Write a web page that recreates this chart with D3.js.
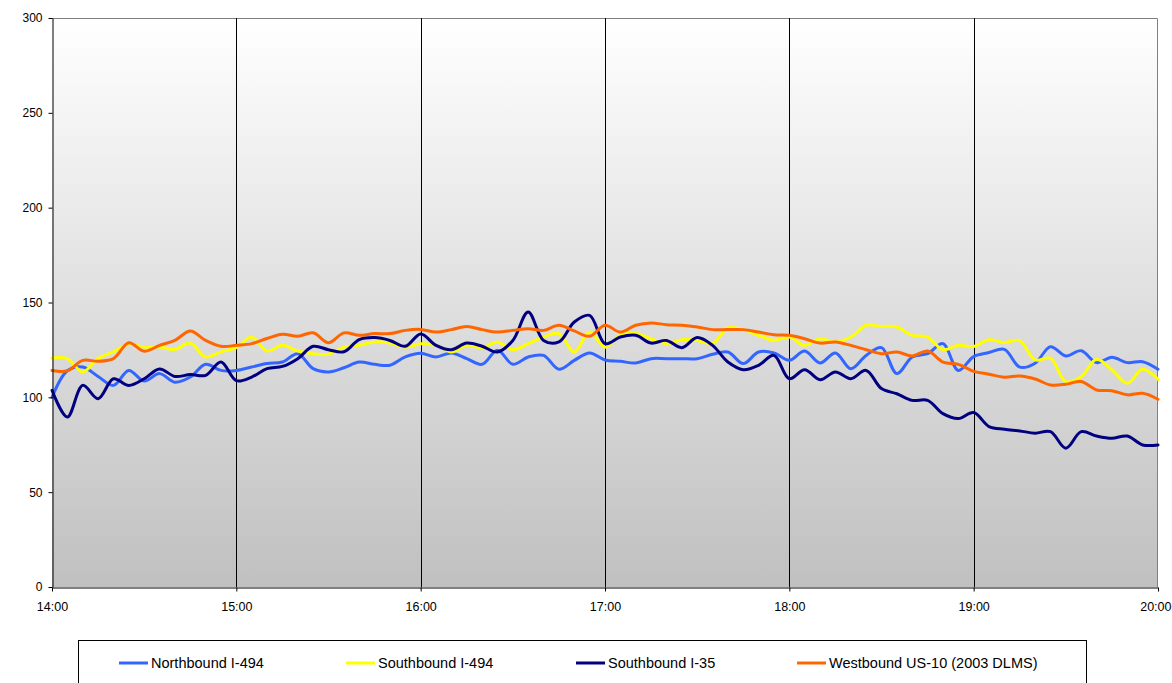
<!DOCTYPE html>
<html>
<head>
<meta charset="utf-8">
<script src="https://cdn.jsdelivr.net/npm/d3@7"></script>
<style>
  html, body { margin: 0; padding: 0; background: #ffffff; }
  svg { display: block; font-family: "Liberation Sans", Arial, sans-serif; }
</style>
</head>
<body>
<svg id="chart" width="1172" height="683"></svg>
<script>
// Traffic volume by five-minute interval, 14:00 to 20:00
const startTime = new Date(2003, 0, 1, 14, 0);
const endTime = new Date(2003, 0, 1, 20, 0);
const intervalMinutes = 5;

const seriesNames = [
  "Northbound I-494",
  "Southbound I-494",
  "Southbound I-35",
  "Westbound US-10 (2003 DLMS)"
];
const seriesColors = ["#3366ff", "#ffff00", "#000080", "#ff6600"];

const northboundI494 = [
  100, 114, 116, 111, 106.3, 114.2, 108.6, 112.5, 108, 110.7, 117.4, 114.2, 114.2,
  116, 117.8, 118.6, 123, 115.1, 113.4, 115.6, 118.6, 117.4, 116.9, 121.3, 123.2,
  121.3, 123.4, 120.4, 117.4, 124.8, 117.4, 121.3, 122.1, 114.8, 119.5, 123.4, 119.7,
  119, 118.1, 120.4, 120.4, 120.4, 120.4, 122.7, 123.9, 117.8, 123.9, 123.4, 119.5,
  124.4, 118.1, 123.4, 115.1, 122.1, 126.2, 112.5, 121.3, 123, 128.3, 114.2, 121.5,
  123.6, 125.3, 115.9, 118, 126.7, 121.8, 124.6, 118.3, 121.1, 118.3, 118.8, 114.8
];
const southboundI494 = [
  120.7, 120.4, 113.4, 120.4, 124, 128, 126.5, 126.5, 125.3, 128.6, 121.3, 124, 126.2,
  131.8, 124.4, 127.4, 124.4, 123, 122.7, 126.5, 127.4, 129.2, 128.6, 126.5, 128.2,
  127.4, 123.9, 127.4, 126.2, 129.2, 125.1, 128.3, 131.8, 133.6, 123.9, 134.4, 126.4,
  132.7, 133.6, 130.9, 128.3, 130.4, 130, 128.3, 136.7, 135.7, 132.7, 130, 131.8,
  127.4, 130.9, 129.2, 131.8, 138, 137.4, 137.1, 132.7, 131.8, 125.1, 127.4, 126.8,
  130.3, 128.9, 129.9, 119.7, 120.6, 108.3, 110.9, 120.1, 114.5, 107.4, 114.8, 109.5
];
const southboundI35 = [
  103.7, 89.6, 106.3, 99.3, 109.8, 106.3, 109.8, 115, 111, 112, 111.6, 118.6, 108.8,
  110.7, 115.1, 116.3, 120.4, 126.9, 125.1, 124, 130.4, 131.5, 130, 126.9, 133.4,
  127.4, 125.1, 128.6, 126.9, 123.9, 130, 145, 130, 129.2, 139.7, 143.2, 128.3,
  131.8, 132.7, 128.6, 130, 126.2, 131.5, 127.4, 118.6, 114.6, 116.9, 122.1, 109.8,
  114.6, 109.3, 113.4, 109.8, 114.2, 104.6, 101.9, 98.4, 98.4, 91.4, 88.8, 92,
  84.6, 83.2, 82.3, 81.1, 81.9, 73.2, 81.9, 79.6, 78.4, 79.6, 74.9, 74.9
];
const westboundUS10 = [
  114.2, 114, 119.5, 119, 120.4, 128.8, 124.3, 127.4, 130, 135, 130, 126.9, 127.4,
  128.3, 131, 133.2, 132.2, 134, 128.8, 134, 132.7, 133.6, 133.6, 135.3, 135.8,
  134.4, 135.7, 137.4, 135.7, 134.4, 135.3, 136.2, 135.3, 138, 135, 132.2, 138,
  134.4, 138, 139.2, 138.3, 138, 137.1, 135.7, 135.7, 135.7, 134.4, 133, 132.7,
  130.9, 128.6, 129.2, 127.4, 125.1, 123, 123.9, 121.8, 124.4, 118.6, 117.4, 113.7,
  112.2, 110.6, 111.3, 109.7, 106.5, 106.9, 108.3, 103.9, 103.5, 101.3, 102.1, 99
];
const seriesValues = [northboundI494, southboundI494, southboundI35, westboundUS10];

const yTicks = [0, 50, 100, 150, 200, 250, 300];
const yDomain = [0, 300];

// Interval timestamps along the x axis
const times = d3.range(northboundI494.length)
  .map(i => d3.timeMinute.offset(startTime, i * intervalMinutes));

const svg = d3.select("#chart");
const margin = { left: 52, top: 18, right: 14, bottom: 96 };
const W = 1172, H = 683;
const plotW = W - margin.left - margin.right;
const plotH = H - margin.top - margin.bottom;

const x = d3.scaleTime().domain([startTime, endTime]).range([margin.left, margin.left + plotW]);
const y = d3.scaleLinear().domain(yDomain).range([margin.top + plotH, margin.top]);

// Plot background: white fading to grey
const defs = svg.append("defs");
const grad = defs.append("linearGradient")
  .attr("id", "plotBg").attr("x1", 0).attr("y1", 0).attr("x2", 0).attr("y2", 1);
grad.append("stop").attr("offset", "0%").attr("stop-color", "#ffffff");
grad.append("stop").attr("offset", "100%").attr("stop-color", "#c0c0c0");

svg.append("rect")
  .attr("x", margin.left).attr("y", margin.top)
  .attr("width", plotW).attr("height", plotH)
  .attr("fill", "url(#plotBg)");

// Top and right plot border
svg.append("path")
  .attr("d", `M${margin.left},${margin.top + 0.5}H${margin.left + plotW - 0.5}V${margin.top + plotH}`)
  .attr("fill", "none").attr("stroke", "#808080").attr("stroke-width", 1);

// Hourly vertical gridlines
const hourTicks = d3.timeHour.range(startTime, d3.timeMinute.offset(endTime, 1));
svg.append("g")
  .selectAll("line")
  .data(hourTicks.slice(1, -1))
  .join("line")
  .attr("x1", d => Math.round(x(d)) + 0.5).attr("x2", d => Math.round(x(d)) + 0.5)
  .attr("y1", margin.top).attr("y2", margin.top + plotH)
  .attr("stroke", "#000000").attr("stroke-width", 1);

// Series lines
const line = d3.line()
  .x((d, i) => x(times[i]))
  .y(d => y(d))
  .curve(d3.curveCatmullRom.alpha(0.5));

svg.append("g")
  .selectAll("path")
  .data(seriesValues)
  .join("path")
  .attr("d", d => line(d))
  .attr("fill", "none")
  .attr("stroke", (d, i) => seriesColors[i])
  .attr("stroke-width", 3)
  .attr("stroke-linejoin", "round")
  .attr("stroke-linecap", "round");

// Axes
const yAxis = d3.axisLeft(y).tickValues(yTicks).tickSize(4).tickSizeOuter(0).tickPadding(6);
const gy = svg.append("g").attr("transform", `translate(${margin.left + 0.5},0)`).call(yAxis);
gy.select(".domain").attr("stroke", "#000");
gy.selectAll(".tick line").attr("stroke", "#000");
gy.selectAll(".tick text")
  .attr("font-size", 12).attr("fill", "#000")
  .attr("font-family", "'Liberation Sans', Arial, sans-serif");

const xAxis = d3.axisBottom(x).tickValues(hourTicks).tickFormat(d3.timeFormat("%H:%M"))
  .tickSize(4).tickSizeOuter(0).tickPadding(11);
const gx = svg.append("g").attr("transform", `translate(0,${margin.top + plotH + 0.5})`).call(xAxis);
gx.select(".domain").attr("stroke", "#000");
gx.selectAll(".tick line").attr("stroke", "#000");
gx.selectAll(".tick text")
  .attr("font-size", 12.5).attr("fill", "#000")
  .attr("font-family", "'Liberation Sans', Arial, sans-serif");
// keep the last hour label inside the canvas
gx.selectAll(".tick text").filter(d => +d === +endTime)
  .attr("text-anchor", "end").attr("dx", 13);

// Legend
const legend = svg.append("g");
legend.append("rect")
  .attr("x", 78.5).attr("y", 640.5)
  .attr("width", 1008).attr("height", 60)
  .attr("fill", "#ffffff").attr("stroke", "#000").attr("stroke-width", 1);

const legendX = [119, 346, 576, 797];
const item = legend.selectAll("g.item")
  .data(seriesNames)
  .join("g")
  .attr("class", "item")
  .attr("transform", (d, i) => `translate(${legendX[i]},663)`);
item.append("line")
  .attr("x1", 0).attr("x2", 29).attr("y1", 0).attr("y2", 0)
  .attr("stroke", (d, i) => seriesColors[i]).attr("stroke-width", 3);
item.append("text")
  .attr("x", 32).attr("y", 0).attr("dy", "0.35em")
  .attr("font-size", 14.5).attr("fill", "#000")
  .text(d => d);
</script>
</body>
</html>
